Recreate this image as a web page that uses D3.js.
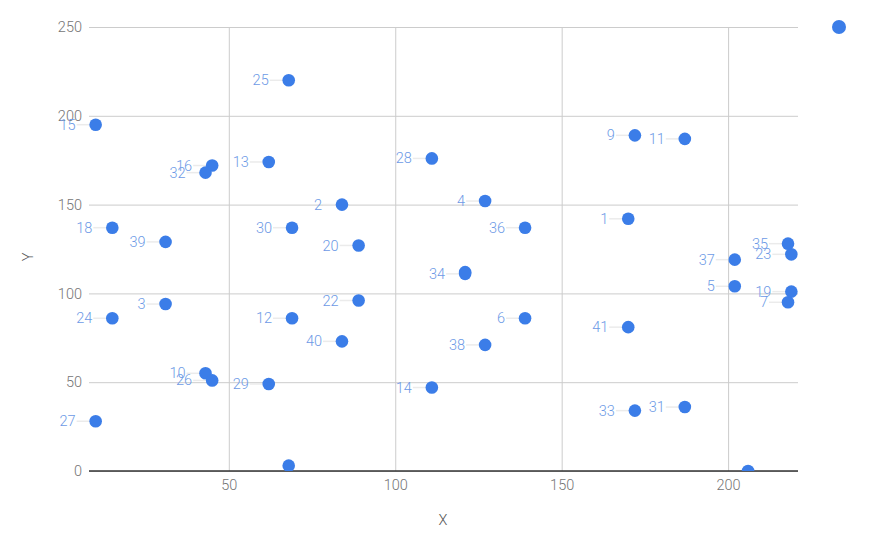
<!DOCTYPE html>
<html>
<head>
<meta charset="utf-8">
<script src="https://cdn.jsdelivr.net/npm/d3@7"></script>
<style>
  html, body { margin: 0; padding: 0; background: #fff; }
  svg { display: block; font-family: Roboto, "Noto Sans", Arial, sans-serif; font-weight: 300; }
</style>
</head>
<body>
<svg id="chart" width="875" height="540"></svg>
<script>
// ---- data ----
const labels = ["1","2","3","4","5","6","7","","9","10","11","12","13","14","15","16","","18","19","20","","22","23","24","25","26","27","28","29","30","31","32","33","34","35","36","37","38","39","40","41"];
const xValues = [170,84,31,127,202,139,218,121,172,43,187,69,62,111,10,45,68,15,219,89,206,89,219,15,68,45,10,111,62,69,187,43,172,121,218,139,202,127,31,84,170];
const yValues = [142,150,94,152,104,86,95,112,189,55,187,86,174,47,195,172,3,137,101,127,0,96,122,86,220,51,28,176,49,137,36,168,34,111,128,137,119,71,129,73,81];
const xTicks = [50, 100, 150, 200];
const yTicks = [0, 50, 100, 150, 200, 250];
const xTitle = "X";
const yTitle = "Y";

(function () {
const points = labels.map((l, i) => ({ label: l, x: xValues[i], y: yValues[i] }));

const svg = d3.select("#chart");
const mLeft = 89, mRight = 798, mTop = 27, mBottom = 471;

const x = d3.scaleLinear().domain([8, 221]).range([mLeft, mRight]);
const y = d3.scaleLinear().domain([0, 250]).range([mBottom, mTop]);

svg.append("defs").append("clipPath").attr("id", "clip")
  .append("rect").attr("x", mLeft).attr("y", mTop - 10).attr("width", mRight - mLeft + 10).attr("height", mBottom - mTop + 10);

// horizontal gridlines
const yAxis = d3.axisLeft(y).tickValues(yTicks).tickSize(-(mRight - mLeft)).tickFormat(d3.format("d"));
const gy = svg.append("g").attr("transform", `translate(${mLeft},0)`).call(yAxis);
gy.select(".domain").remove();
gy.selectAll(".tick line").attr("stroke", "#cccccc").attr("stroke-width", 1);
gy.selectAll(".tick text").attr("x", -7).attr("fill", "#757575").attr("font-size", 14.5)
  .attr("font-family", "Roboto").attr("font-weight", 300);

// vertical gridlines
const xAxis = d3.axisBottom(x).tickValues(xTicks).tickSize(-(mBottom - mTop)).tickFormat(d3.format("d"));
const gx = svg.append("g").attr("transform", `translate(0,${mBottom})`).call(xAxis);
gx.select(".domain").remove();
gx.selectAll(".tick line").attr("stroke", "#cccccc").attr("stroke-width", 1);
gx.selectAll(".tick text").attr("y", 9).attr("fill", "#757575").attr("font-size", 14.5)
  .attr("font-family", "Roboto").attr("font-weight", 300);

// baseline
svg.append("line").attr("x1", mLeft).attr("x2", mRight).attr("y1", y(0)).attr("y2", y(0))
  .attr("stroke", "#333333").attr("stroke-width", 1.5);

// axis titles
svg.append("text").attr("x", (mLeft + mRight) / 2 - 0.5).attr("y", 525)
  .attr("text-anchor", "middle").attr("fill", "#555").attr("font-size", 14.5).text(xTitle);
svg.append("text").attr("transform", `translate(33,257) rotate(-90)`)
  .attr("text-anchor", "middle").attr("fill", "#555").attr("font-size", 14.5).text(yTitle);

// leader lines and labels
const lab = svg.append("g");
points.filter(d => d.label !== "").forEach(d => {
  const px = x(d.x), py = y(d.y);
  lab.append("line").attr("x1", px - 19).attr("x2", px - 5).attr("y1", py).attr("y2", py)
    .attr("stroke", "#ebebeb").attr("stroke-width", 1.5);
  lab.append("text").attr("x", px - 20).attr("y", py).attr("dy", "0.35em")
    .attr("text-anchor", "end").attr("fill", "#6d9ae6").attr("font-size", 14.5).text(d.label);
});

// points
svg.append("g").attr("clip-path", "url(#clip)")
  .selectAll("circle").data(points).join("circle")
  .attr("cx", d => x(d.x)).attr("cy", d => y(d.y)).attr("r", 6.3)
  .attr("fill", "#3b7de8");

// legend marker
svg.append("circle").attr("cx", 839).attr("cy", 27).attr("r", 7).attr("fill", "#3b7de8");
})();
</script>
</body>
</html>
